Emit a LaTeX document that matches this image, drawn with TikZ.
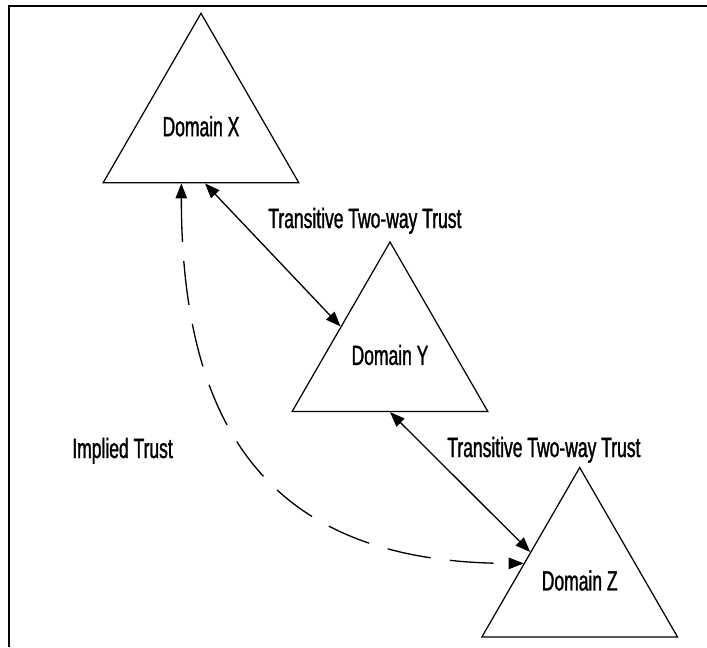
\documentclass[tikz,border=0pt]{standalone}
\usepackage{fontspec}
\setmainfont{Liberation Sans}[FakeStretch=0.63, FakeBold=1.2]
\usetikzlibrary{arrows.meta,positioning,shapes.geometric}

\begin{document}
\begin{tikzpicture}[
    x=0.02cm, y=-0.02cm,
    every node/.style={font=\fontsize{15.8}{18}\selectfont},
    domtree/.style={draw, regular polygon, regular polygon sides=3, minimum size=4.52cm, inner sep=0pt, line width=0.7pt},
    tag/.style={anchor=base west, inner sep=0pt},
    flow/.style={{Triangle[length=8.5pt,width=6.5pt]}-{Triangle[length=8.5pt,width=6.5pt]}, line width=0.75pt},
    implied/.style={flow, dash pattern=on 25pt off 11pt}
]
\useasboundingbox (0,0) rectangle (707,647);
\draw[line width=1.1pt] (9,647) -- (9,6) -- (707,6);

\node[domtree] (dx) at (201,126.3) {Domain X};
\node[domtree] (dy) at (390,355) {Domain Y};
\node[domtree] (dz) at (579.7,580.5) {Domain Z};

\node[tag] (xylabel) at (268,228) {Transitive Two-way Trust};
\node[tag] (yzlabel) at (447,457) {Transitive Two-way Trust};
\node[tag] (implabel) at (72,458) {Implied Trust};

\draw[flow] (dx.274) -- (dy.side 1);
\draw[flow] (dy.south) -- (dz.side 1);
\draw[implied] (dx.251) .. controls +(0,250) and +(-250,0) .. (dz.163);
\end{tikzpicture}
\end{document}
